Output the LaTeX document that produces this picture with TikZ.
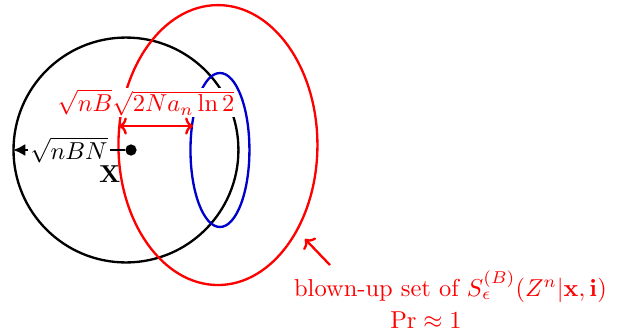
\documentclass[tikz,border=0pt]{standalone}
\usepackage{amsmath}
\usepackage{amssymb}
\usetikzlibrary{arrows.meta, positioning}

\begin{document}
\begin{tikzpicture}[every node/.style={font=\normalsize}]
    \tikzset{
      setline/.style={line width=0.95pt},
      redarrow/.style={red, line width=0.95pt, <->, >={To[length=3.2pt,width=7pt]}}}
    \useasboundingbox (0,0) rectangle (8.87,4.765);
    % typical ball, blown-up set and its core
    \draw[setline, black] (1.808,2.612) circle (1.614);
    \draw[setline, blue!80!black] (3.157,2.612) ellipse (0.423 and 1.105);
    \draw[setline, red] (3.128,2.683) ellipse (1.428 and 2.009);
    % codeword and radius
    \node[circle, fill=black, inner sep=0pt, minimum size=4.6pt] (cw) at (1.880,2.612) {};
    \coordinate (rim) at (0.187,2.612);
    \draw[setline, -{Latex[length=5pt,width=5pt]}] (cw) -- node[fill=white, inner sep=1pt] (rad) {$\sqrt{nBN}$} (rim);
    \node (xb) at (1.575,2.26) {$\mathbf{X}$};
    % blow-up distance
    \coordinate (bl) at (1.708,2.956);
    \coordinate (br) at (2.770,2.956);
    \draw[redarrow] (bl) -- (br);
    \node[red, fill=white, inner sep=0.3pt] (dist) at (2.095,3.29) {$\sqrt{nB}\sqrt{2Na_n\ln 2}$};
    % caption
    \node[red] (cap) at (6.465,0.646) {blown-up set of $S_\epsilon^{(B)}(Z^n|\mathbf{x},\mathbf{i})$};
    \node[red] (pr) at (6.113,0.172) {$\Pr\approx 1$};
    \coordinate (tip) at (4.377,1.335);
    \coordinate (tail) at (4.736,0.961);
    \draw[redarrow, <-] (tip) -- (tail);
\end{tikzpicture}
\end{document}
